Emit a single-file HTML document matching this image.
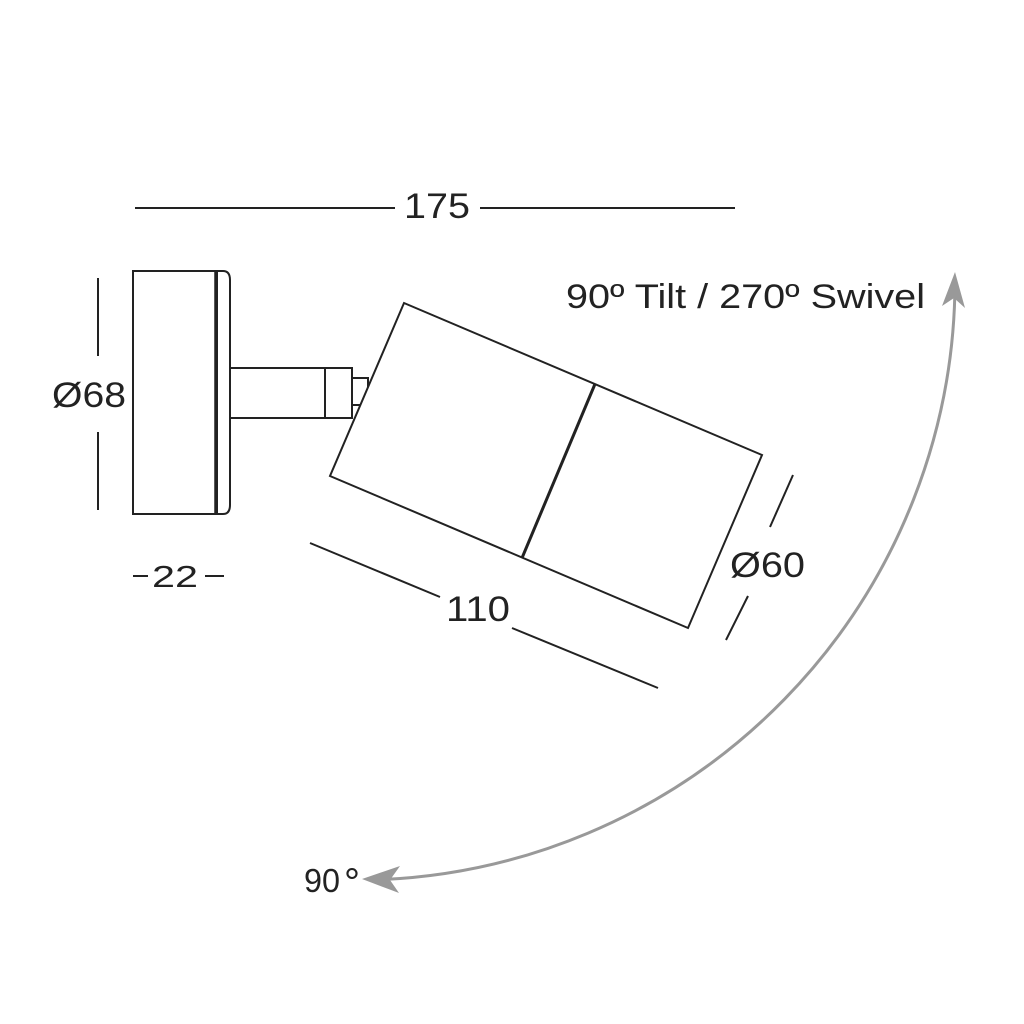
<!DOCTYPE html>
<html><head><style>
html,body{margin:0;padding:0;background:#fff;}
svg{display:block;}
text{font-family:"Liberation Sans",sans-serif;fill:#222;}
</style></head><body>
<svg width="1024" height="1024" viewBox="0 0 1024 1024" xmlns="http://www.w3.org/2000/svg">
<g stroke="#222" fill="none" stroke-width="2">
<rect x="133" y="271" width="84" height="243" fill="#fff"/>
<path d="M217 271 H223 Q230 271 230 280 V505 Q230 514 223 514 H217" />
<line x1="216" y1="271" x2="216" y2="514" stroke-width="3.5"/>
<rect x="230" y="368" width="122" height="50"/>
<line x1="325" y1="368" x2="325" y2="418"/>
<rect x="352" y="378" width="16" height="27"/>
<polygon points="404,303 762,455 688,628 330,476" fill="#fff"/>
<line x1="595" y1="384" x2="522" y2="558" stroke-width="3"/>
<line x1="135" y1="208" x2="395" y2="208"/>
<line x1="480" y1="208" x2="735" y2="208"/>
<line x1="98" y1="278" x2="98" y2="356"/>
<line x1="98" y1="432" x2="98" y2="510"/>
<line x1="133" y1="576" x2="148" y2="576"/>
<line x1="205" y1="576" x2="224" y2="576"/>
<line x1="310" y1="543" x2="440" y2="597"/>
<line x1="512" y1="628" x2="658" y2="688"/>
<line x1="793" y1="475" x2="770" y2="527"/>
<line x1="748" y1="596" x2="726" y2="640"/>
</g>
<path d="M372 880 A 600 600 0 0 0 955 282" stroke="#999" stroke-width="3" fill="none"/>
<polygon points="362,879 400,866 390,880 399,893" fill="#999"/>
<polygon points="955,272 965,308 954,298 942,306" fill="#999"/>
<text x="404" y="218" font-size="35" textLength="66" lengthAdjust="spacingAndGlyphs">175</text>
<text x="52" y="407" font-size="35" textLength="74" lengthAdjust="spacingAndGlyphs">Ø68</text>
<text x="152" y="587" font-size="31" textLength="46" lengthAdjust="spacingAndGlyphs">22</text>
<text x="446" y="621" font-size="35" textLength="64" lengthAdjust="spacingAndGlyphs">110</text>
<text x="730" y="577" font-size="35" textLength="75" lengthAdjust="spacingAndGlyphs">Ø60</text>
<text x="566" y="308" font-size="34" textLength="359" lengthAdjust="spacingAndGlyphs">90º Tilt / 270º Swivel</text>
<text x="304" y="892" font-size="33" textLength="36" lengthAdjust="spacingAndGlyphs">90</text>
<text x="344" y="896" font-size="40">°</text>
</svg>
</body></html>
